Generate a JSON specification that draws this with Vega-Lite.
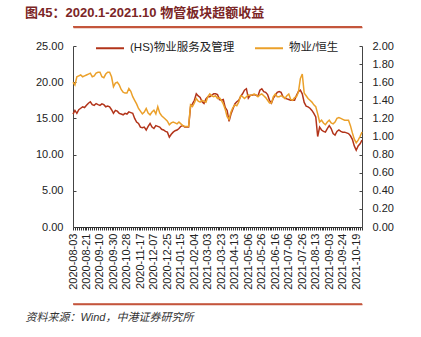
{
  "$schema": "https://vega.github.io/schema/vega-lite/v6.json",
  "width": 289,
  "height": 181,
  "autosize": {"type": "none"},
  "padding": {"left": 73, "top": 46, "right": 59, "bottom": 110},
  "background": "white",
  "config": {"view": {"stroke": null}, "font": "Liberation Sans, Noto Sans CJK SC"},
  "title": {
    "text": "图45：2020.1-2021.10 物管板块超额收益",
    "anchor": "start",
    "frame": "group",
    "dx": -48,
    "offset": 6,
    "font": "Liberation Sans, Noto Sans CJK SC",
    "fontSize": 13,
    "fontWeight": "bold",
    "color": "#7B2626"
  },
  "datasets": {
    "sep": [{"pos": "top", "v": 27.67}, {"pos": "bottom", "v": -10.64}],
    "series": [
    {"d":"2020-08-03","hs":15.6,"r":1.60},{"d":"2020-08-05","hs":16.1,"r":1.57},{"d":"2020-08-07","hs":15.7,"r":1.66},{"d":"2020-08-11","hs":16.2,"r":1.67},
    {"d":"2020-08-13","hs":16.4,"r":1.68},{"d":"2020-08-17","hs":16.6,"r":1.66},{"d":"2020-08-19","hs":16.5,"r":1.67},{"d":"2020-08-21","hs":16.8,"r":1.68},
    {"d":"2020-08-25","hs":17.1,"r":1.69},{"d":"2020-08-27","hs":17.3,"r":1.70},{"d":"2020-08-31","hs":16.9,"r":1.66},{"d":"2020-09-02","hs":16.8,"r":1.67},
    {"d":"2020-09-04","hs":17.05,"r":1.70},{"d":"2020-09-08","hs":16.9,"r":1.71},{"d":"2020-09-10","hs":16.8,"r":1.71},{"d":"2020-09-14","hs":17.0,"r":1.66},
    {"d":"2020-09-16","hs":16.9,"r":1.65},{"d":"2020-09-18","hs":16.6,"r":1.69},{"d":"2020-09-22","hs":16.7,"r":1.71},{"d":"2020-09-24","hs":16.6,"r":1.71},
    {"d":"2020-09-28","hs":16.2,"r":1.66},{"d":"2020-09-30","hs":15.7,"r":1.55},{"d":"2020-10-12","hs":16.1,"r":1.59},{"d":"2020-10-14","hs":16.0,"r":1.60},
    {"d":"2020-10-16","hs":15.7,"r":1.57},{"d":"2020-10-20","hs":15.6,"r":1.52},{"d":"2020-10-22","hs":15.5,"r":1.49},{"d":"2020-10-26","hs":15.7,"r":1.48},
    {"d":"2020-10-28","hs":15.6,"r":1.48},{"d":"2020-10-30","hs":15.9,"r":1.53},{"d":"2020-11-03","hs":15.8,"r":1.50},{"d":"2020-11-05","hs":15.7,"r":1.44},
    {"d":"2020-11-09","hs":15.0,"r":1.40},{"d":"2020-11-11","hs":14.5,"r":1.36},{"d":"2020-11-13","hs":14.3,"r":1.31},{"d":"2020-11-17","hs":13.8,"r":1.28},
    {"d":"2020-11-19","hs":13.7,"r":1.25},{"d":"2020-11-23","hs":13.8,"r":1.27},{"d":"2020-11-25","hs":13.4,"r":1.31},{"d":"2020-11-27","hs":13.9,"r":1.26},
    {"d":"2020-12-01","hs":14.3,"r":1.24},{"d":"2020-12-03","hs":13.8,"r":1.27},{"d":"2020-12-07","hs":13.6,"r":1.29},{"d":"2020-12-09","hs":14.0,"r":1.25},
    {"d":"2020-12-11","hs":13.9,"r":1.33},{"d":"2020-12-15","hs":13.8,"r":1.26},{"d":"2020-12-17","hs":13.5,"r":1.23},{"d":"2020-12-21","hs":13.4,"r":1.21},
    {"d":"2020-12-23","hs":13.2,"r":1.19},{"d":"2020-12-25","hs":13.1,"r":1.17},{"d":"2020-12-29","hs":12.4,"r":1.13},{"d":"2020-12-31","hs":12.8,"r":1.15},
    {"d":"2021-01-05","hs":13.1,"r":1.16},{"d":"2021-01-07","hs":13.3,"r":1.15},{"d":"2021-01-11","hs":13.4,"r":1.14},{"d":"2021-01-13","hs":13.6,"r":1.16},
    {"d":"2021-01-15","hs":13.9,"r":1.14},{"d":"2021-01-19","hs":14.0,"r":1.12},{"d":"2021-01-21","hs":13.8,"r":1.11},{"d":"2021-01-25","hs":13.8,"r":1.11},
    {"d":"2021-01-27","hs":13.8,"r":1.11},{"d":"2021-01-29","hs":16.6,"r":1.35},{"d":"2021-02-02","hs":17.0,"r":1.33},{"d":"2021-02-04","hs":17.5,"r":1.37},
    {"d":"2021-02-08","hs":18.4,"r":1.42},{"d":"2021-02-10","hs":18.1,"r":1.39},{"d":"2021-02-19","hs":17.9,"r":1.38},{"d":"2021-02-23","hs":17.3,"r":1.40},
    {"d":"2021-02-25","hs":17.05,"r":1.39},{"d":"2021-03-01","hs":17.7,"r":1.38},{"d":"2021-03-03","hs":18.0,"r":1.44},{"d":"2021-03-05","hs":18.0,"r":1.47},
    {"d":"2021-03-09","hs":18.2,"r":1.45},{"d":"2021-03-11","hs":18.4,"r":1.44},{"d":"2021-03-15","hs":18.4,"r":1.45},{"d":"2021-03-17","hs":18.3,"r":1.42},
    {"d":"2021-03-19","hs":17.6,"r":1.43},{"d":"2021-03-23","hs":17.5,"r":1.40},{"d":"2021-03-25","hs":17.6,"r":1.36},{"d":"2021-03-29","hs":16.5,"r":1.30},
    {"d":"2021-03-31","hs":16.1,"r":1.22},{"d":"2021-04-02","hs":14.6,"r":1.19},{"d":"2021-04-07","hs":15.6,"r":1.27},{"d":"2021-04-09","hs":16.3,"r":1.32},
    {"d":"2021-04-13","hs":17.0,"r":1.35},{"d":"2021-04-15","hs":17.3,"r":1.34},{"d":"2021-04-19","hs":17.5,"r":1.38},{"d":"2021-04-21","hs":18.0,"r":1.45},
    {"d":"2021-04-23","hs":18.4,"r":1.44},{"d":"2021-04-27","hs":18.9,"r":1.42},{"d":"2021-04-29","hs":19.1,"r":1.44},{"d":"2021-05-06","hs":17.8,"r":1.46},
    {"d":"2021-05-10","hs":18.2,"r":1.45},{"d":"2021-05-12","hs":18.2,"r":1.46},{"d":"2021-05-14","hs":18.3,"r":1.47},{"d":"2021-05-18","hs":18.2,"r":1.46},
    {"d":"2021-05-20","hs":18.1,"r":1.44},{"d":"2021-05-24","hs":18.9,"r":1.46},{"d":"2021-05-26","hs":19.1,"r":1.47},{"d":"2021-05-28","hs":18.7,"r":1.45},
    {"d":"2021-06-01","hs":18.6,"r":1.43},{"d":"2021-06-03","hs":18.3,"r":1.40},{"d":"2021-06-07","hs":17.5,"r":1.37},{"d":"2021-06-09","hs":17.1,"r":1.37},
    {"d":"2021-06-11","hs":17.8,"r":1.44},{"d":"2021-06-16","hs":18.2,"r":1.47},{"d":"2021-06-18","hs":18.6,"r":1.44},{"d":"2021-06-22","hs":18.7,"r":1.44},
    {"d":"2021-06-24","hs":18.6,"r":1.45},{"d":"2021-06-28","hs":18.0,"r":1.44},{"d":"2021-06-30","hs":17.8,"r":1.42},{"d":"2021-07-02","hs":17.7,"r":1.45},
    {"d":"2021-07-06","hs":17.6,"r":1.47},{"d":"2021-07-08","hs":17.5,"r":1.41},{"d":"2021-07-12","hs":17.5,"r":1.40},{"d":"2021-07-14","hs":17.5,"r":1.43},
    {"d":"2021-07-16","hs":18.2,"r":1.44},{"d":"2021-07-20","hs":18.7,"r":1.49},{"d":"2021-07-22","hs":18.9,"r":1.64},{"d":"2021-07-26","hs":18.4,"r":1.69},
    {"d":"2021-07-28","hs":17.2,"r":1.48},{"d":"2021-07-30","hs":16.7,"r":1.45},{"d":"2021-08-03","hs":16.6,"r":1.42},{"d":"2021-08-05","hs":16.4,"r":1.40},
    {"d":"2021-08-09","hs":16.1,"r":1.38},{"d":"2021-08-11","hs":15.7,"r":1.35},{"d":"2021-08-13","hs":15.2,"r":1.33},{"d":"2021-08-17","hs":12.5,"r":1.25},
    {"d":"2021-08-19","hs":13.8,"r":1.16},{"d":"2021-08-24","hs":13.4,"r":1.18},{"d":"2021-08-26","hs":13.2,"r":1.15},{"d":"2021-08-30","hs":13.1,"r":1.13},
    {"d":"2021-09-01","hs":13.6,"r":1.16},{"d":"2021-09-03","hs":14.0,"r":1.18},{"d":"2021-09-07","hs":13.6,"r":1.15},{"d":"2021-09-09","hs":12.9,"r":1.14},
    {"d":"2021-09-13","hs":12.7,"r":1.16},{"d":"2021-09-15","hs":13.2,"r":1.20},{"d":"2021-09-17","hs":13.4,"r":1.21},{"d":"2021-09-21","hs":13.2,"r":1.20},
    {"d":"2021-09-24","hs":13.1,"r":1.19},{"d":"2021-09-28","hs":13.1,"r":1.18},{"d":"2021-09-30","hs":13.0,"r":1.18},{"d":"2021-10-05","hs":12.9,"r":1.18},
    {"d":"2021-10-07","hs":12.6,"r":1.12},{"d":"2021-10-11","hs":12.1,"r":1.04},{"d":"2021-10-15","hs":11.2,"r":0.97},{"d":"2021-10-19","hs":10.6,"r":0.93},
    {"d":"2021-10-21","hs":11.2,"r":0.96},{"d":"2021-10-25","hs":11.5,"r":1.00},{"d":"2021-10-27","hs":12.0,"r":1.05}
    ]
  },
  "data": {"name": "series"},
  "layer": [
    {
      "mark": {"type": "line", "strokeWidth": 1.5},
      "encoding": {
        "x": {
          "field": "d", "type": "ordinal",
          "scale": {"type": "point", "padding": 0},
          "axis": {
            "orient": "bottom",
            "title": "资料来源：Wind，中港证券研究所",
            "titleX": -48, "titleY": 90, "titleAlign": "left", "titleBaseline": "middle",
            "titleFont": "Liberation Sans, Noto Sans CJK SC", "titleFontSize": 11, "titleFontStyle": "italic",
            "titleFontWeight": "normal", "titleColor": "#333",
            "labelAngle": -90, "labelAlign": "right", "labelBaseline": "middle",
            "labelFontSize": 11, "labelColor": "#222", "labelPadding": 3,
            "labelOverlap": false, "labelBound": false, "labelFlush": false,
            "labelExpr": "indexof(['2020-08-03','2020-08-21','2020-09-10','2020-09-30','2020-10-28','2020-11-17','2020-12-07','2020-12-25','2021-01-15','2021-02-04','2021-03-03','2021-03-23','2021-04-13','2021-05-06','2021-05-26','2021-06-16','2021-07-06','2021-07-26','2021-08-13','2021-09-03','2021-09-24','2021-10-19'], datum.label) >= 0 ? datum.label : ''",
            "tickSize": 3, "tickColor": "#333", "domainColor": "#333", "grid": false
          }
        },
        "y": {
          "field": "hs", "type": "quantitative",
          "scale": {"domain": [0, 25], "nice": false, "zero": true},
          "axis": {
            "orient": "left", "title": null, "values": [0, 5, 10, 15, 20, 25], "format": ".2f",
            "grid": false, "labelFontSize": 11, "labelColor": "#222", "labelPadding": 13,
            "tickSize": -3, "tickColor": "#444", "domainColor": "#444"
          }
        },
        "color": {
          "datum": "(HS)物业服务及管理", "type": "nominal",
          "scale": {"domain": ["(HS)物业服务及管理", "物业/恒生"], "range": ["#B2341A", "#EBA02A"]},
          "legend": {
            "orient": "none", "legendX": 22, "legendY": -13, "direction": "horizontal", "title": null,
            "labelFontSize": 11.5, "labelColor": "#222", "labelFont": "Liberation Sans, Noto Sans CJK SC",
            "symbolType": "stroke", "symbolSize": 784, "symbolStrokeWidth": 2,
            "columnPadding": 16, "labelOffset": 5
          }
        }
      }
    },
    {
      "mark": {"type": "line", "strokeWidth": 1.5},
      "encoding": {
        "x": {"field": "d", "type": "ordinal", "axis": null},
        "y": {
          "field": "r", "type": "quantitative",
          "scale": {"domain": [0, 2], "nice": false, "zero": true},
          "axis": {
            "orient": "right", "title": null, "values": [0, 0.2, 0.4, 0.6, 0.8, 1, 1.2, 1.4, 1.6, 1.8, 2], "format": ".2f",
            "grid": false, "labelFontSize": 11, "labelColor": "#222", "labelPadding": 13,
            "tickSize": -3, "tickColor": "#444", "domainColor": "#444"
          }
        },
        "color": {"datum": "物业/恒生", "type": "nominal"}
      }
    },
    {
      "data": {"name": "sep"},
      "mark": {"type": "rule", "color": "#C4563C", "strokeWidth": 1.5, "clip": false},
      "encoding": {
        "y": {
          "field": "v", "type": "quantitative",
          "scale": {"domain": [-10.64, 27.67], "range": [258, -19.3], "nice": false, "zero": false},
          "axis": {
            "orient": "left", "title": null, "values": [-10.64, 27.67],
            "labels": false, "ticks": false, "domain": false,
            "grid": true, "gridColor": "#C4563C", "gridWidth": 1.5, "gridOpacity": 1
          }
        }
      }
    }
  ],
  "resolve": {"scale": {"y": "independent"}, "axis": {"x": "independent", "y": "independent"}}
}
